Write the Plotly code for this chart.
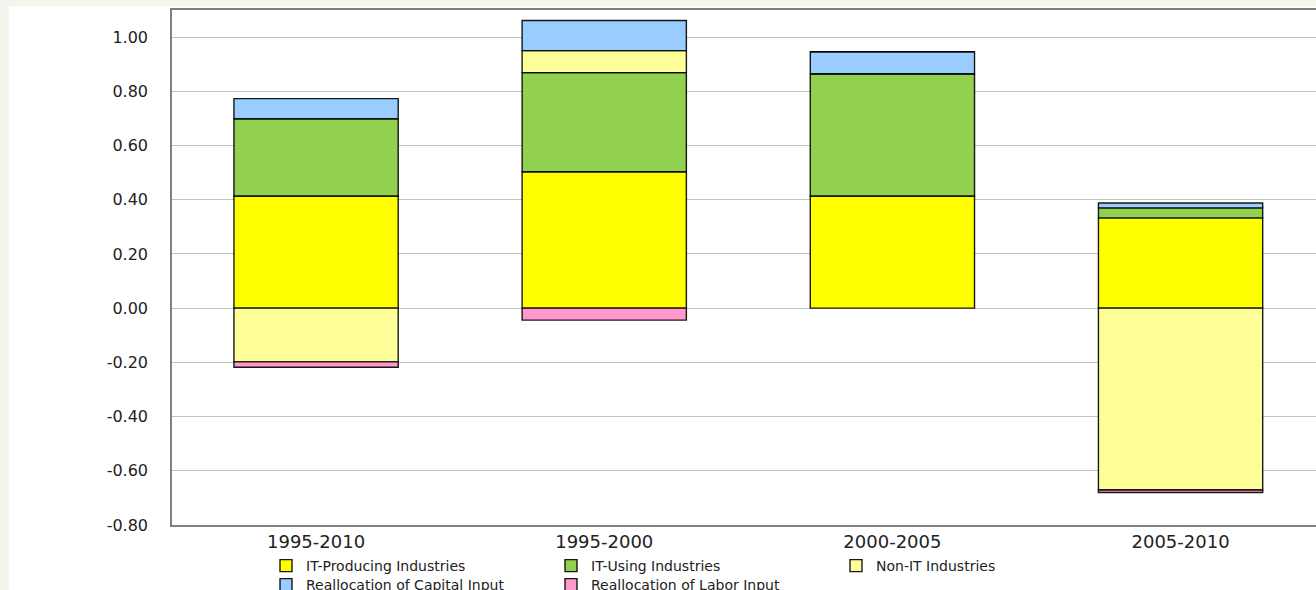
import plotly.graph_objects as go

periods = ["1995-2010", "1995-2000", "2000-2005", "2005-2010"]
it_producing = [0.414, 0.503, 0.414, 0.333]
it_using = [0.285, 0.366, 0.451, 0.037]
non_it = [-0.198, 0.081, 0.0, -0.671]
realloc_capital = [0.074, 0.111, 0.081, 0.018]
realloc_labor = [-0.020, -0.044, 0.0, -0.009]

y_tick_values = [-0.8, -0.6, -0.4, -0.2, 0.0, 0.2, 0.4, 0.6, 0.8, 1.0]
y_tick_labels = ["-0.80", "-0.60", "-0.40", "-0.20", "0.00", "0.20", "0.40", "0.60", "0.80", "1.00"]

series = [
    ("IT-Producing Industries", it_producing, "#FFFF00", "legend"),
    ("IT-Using Industries", it_using, "#92D050", "legend"),
    ("Non-IT Industries", non_it, "#FFFF99", "legend"),
    ("Reallocation of Capital Input", realloc_capital, "#99CCFF", "legend2"),
    ("Reallocation of Labor Input", realloc_labor, "#FF99CC", "legend2"),
]

W, H = 1316, 590
L, R, T, B = 172, 0, 10, 65
pw, ph = W - L - R, H - T - B

def px_x(p):
    return (p - L) / pw

def px_y(p):
    return (H - B - p) / ph

fig = go.Figure()
for name, vals, color, leg in series:
    fig.add_trace(go.Bar(
        x=periods, y=vals, name=name, legend=leg,
        marker=dict(color=color, line=dict(color="rgba(0,0,0,0.9)", width=1.4)),
        width=0.57,
    ))

legend_common = dict(
    orientation="h",
    xanchor="left", yanchor="top",
    entrywidth=240, entrywidthmode="pixels",
    font=dict(size=14, color="#222222"),
    bgcolor="rgba(0,0,0,0)",
    traceorder="normal",
    itemwidth=30,
    tracegroupgap=0,
)

fig.update_layout(
    width=W, height=H,
    margin=dict(l=L, r=R, t=T, b=B, pad=0, autoexpand=False),
    barmode="relative",
    paper_bgcolor="#F4F4EF",
    plot_bgcolor="#CCFFCC",
    font=dict(family="DejaVu Sans", color="#222222"),
    showlegend=True,
    legend=dict(legend_common, x=px_x(266), y=px_y(550)),
    legend2=dict(legend_common, x=px_x(266), y=px_y(569)),
    xaxis=dict(
        range=[-0.5, 3.47],
        showgrid=False,
        showline=True, linecolor="#808080", linewidth=1.5,
        mirror=True,
        ticks="",
        tickfont=dict(size=18, color="#222222"),
        fixedrange=True,
        automargin=False,
    ),
    yaxis=dict(
        range=[-0.8, 1.1],
        tickmode="array",
        tickvals=y_tick_values,
        ticktext=y_tick_labels,
        showgrid=True, gridcolor="#B5CCB5", gridwidth=1.2,
        zeroline=False,
        showline=True, linecolor="#808080", linewidth=1.5,
        mirror=True,
        ticks="outside", ticklen=19, tickcolor="rgba(0,0,0,0)",
        tickfont=dict(size=16, color="#222222"),
        fixedrange=True,
        automargin=False,
    ),
    shapes=[dict(
        type="rect", xref="paper", yref="paper", layer="below",
        x0=px_x(9), x1=px_x(W + 5), y0=px_y(H + 5), y1=px_y(6),
        fillcolor="#FFFFFF", line=dict(width=0),
    )],
)

fig.write_html("out.html")
